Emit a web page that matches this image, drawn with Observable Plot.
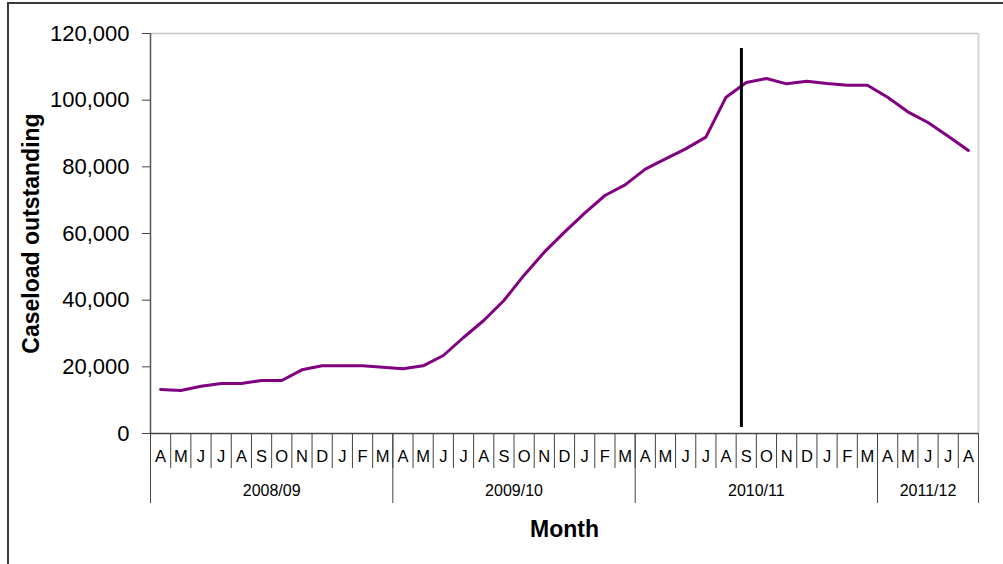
<!DOCTYPE html>
<html><head><meta charset="utf-8">
<script src="https://cdn.jsdelivr.net/npm/d3@7"></script>
<script src="https://cdn.jsdelivr.net/npm/@observablehq/plot@0.6"></script>
<style>
html,body{margin:0;padding:0;background:#fff;overflow:hidden;}
#wrap{position:relative;width:1003px;height:564px;overflow:hidden;}
#frame{position:absolute;left:7px;top:2px;width:2000px;height:2000px;border:2px solid #3a3a3a;box-sizing:border-box;}
#chart{position:absolute;left:0;top:0;}
</style></head><body><div id="wrap"><div id="frame"></div><div id="chart"></div></div>
<script>
const monthLabels = ["A","M","J","J","A","S","O","N","D","J","F","M",
                     "A","M","J","J","A","S","O","N","D","J","F","M",
                     "A","M","J","J","A","S","O","N","D","J","F","M",
                     "A","M","J","J","A"];
const caseload = [13200,12900,14200,15000,15000,15900,15900,19100,20300,20300,20300,19900,
                  19400,20300,23400,28800,33900,39900,47500,54400,60400,66100,71400,74600,
                  79300,82400,85400,88900,100900,105300,106500,104900,105700,105000,104500,104500,
                  100900,96500,93300,89200,84900];
const yearLabels = ["2008/09","2009/10","2010/11","2011/12"];
const yearStarts = [0,12,24,36];
const monthCount = 41;
const yTicks = [0,20000,40000,60000,80000,100000,120000];
const markerPosition = [29.26];
const markerExtent = [1800,115500];

const points = caseload.map((v,i)=>({pos:i+0.5, value:v, label:monthLabels[i]}));
const yearEnds = [...yearStarts.slice(1), monthCount];
const years = yearLabels.map((l,i)=>({label:l, mid:(yearStarts[i]+yearEnds[i])/2}));

const chart = Plot.plot({
  width:1003, height:564,
  marginLeft:150, marginRight:25, marginTop:33, marginBottom:131,
  style:{fontFamily:"'Liberation Sans', Arial, sans-serif", color:"#000", background:"transparent", overflow:"visible"},
  x:{domain:[0,monthCount], axis:null},
  y:{domain:[0,120000], axis:null},
  marks:[
    Plot.ruleY([120000], {stroke:"#c4c4c4", strokeWidth:1.5}),
    Plot.ruleX([monthCount], {y1:0, y2:120000, stroke:"#d8d8d8", strokeWidth:2}),
    Plot.axisY({ticks:yTicks, tickSize:8, tickPadding:13, tickFormat:d3.format(","), fontSize:22, stroke:"#444", label:null}),
    Plot.ruleX([0], {stroke:"#555", strokeWidth:1.5}),
    Plot.ruleY([0], {stroke:"#444", strokeWidth:1.5}),
    Plot.axisX({ticks:d3.range(monthCount+1), tickSize:35, tickFormat:()=>"", stroke:"#444", label:null}),
    Plot.axisX({ticks:[...yearStarts, monthCount], tickSize:70, tickFormat:()=>"", stroke:"#444", label:null}),
    Plot.text(points, {x:"pos", text:"label", frameAnchor:"bottom", lineAnchor:"middle", dy:23, fontSize:16.5}),
    Plot.text(years, {x:"mid", text:"label", frameAnchor:"bottom", lineAnchor:"middle", dy:57, fontSize:16}),
    Plot.text(["Month"], {text:d=>d, frameAnchor:"bottom", lineAnchor:"middle", dy:96, fontSize:23, fontWeight:"bold"}),
    Plot.text(["Caseload outstanding"], {text:d=>d, frameAnchor:"left", textAnchor:"middle", lineAnchor:"middle", dx:-119, rotate:-90, fontSize:23, fontWeight:"bold"}),
    Plot.line(points, {x:"pos", y:"value", stroke:"#800080", strokeWidth:3}),
    Plot.ruleX(markerPosition, {y1:markerExtent[0], y2:markerExtent[1], stroke:"#000", strokeWidth:3})
  ]
});
document.getElementById("chart").appendChild(chart);
</script>
</body></html>
